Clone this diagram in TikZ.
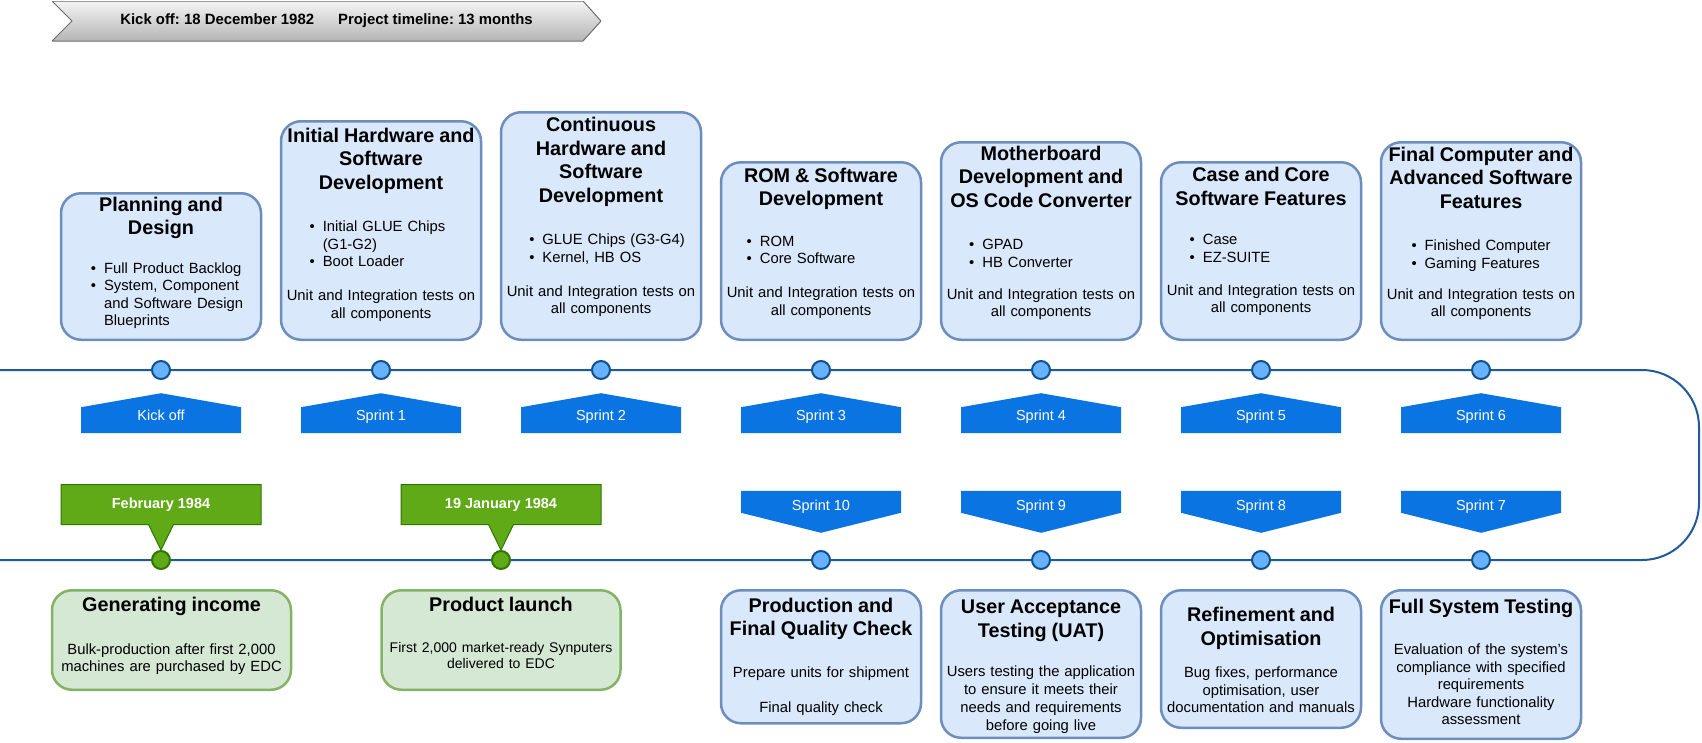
\documentclass[tikz,border=0pt]{standalone}
\usepackage{fontspec}
\setmainfont{Liberation Sans}
\usetikzlibrary{positioning,shapes.callouts}
\definecolor{tlblue}{HTML}{1F5A99}
\definecolor{dotblue}{HTML}{66B2FF}
\definecolor{dotedge}{HTML}{10508F}
\definecolor{sprintblue}{HTML}{0B74E3}
\definecolor{stagefill}{HTML}{DAE8FC}
\definecolor{stageline}{HTML}{6C8EBF}
\definecolor{gofill}{HTML}{D5E8D4}
\definecolor{goline}{HTML}{82B366}
\definecolor{dategreen}{HTML}{60A917}
\definecolor{dateedge}{HTML}{2D7600}
\definecolor{bannerhi}{HTML}{F4F4F4}
\definecolor{bannerlo}{HTML}{B5B5B5}
\definecolor{banneredge}{HTML}{6E6E6E}
\setlength{\parindent}{0pt}
\newcommand{\hdfont}{\fontsize{19.8}{23.5}\selectfont\bfseries}
\newcommand{\txfont}{\fontsize{14.8}{17.5}\selectfont}
\newcommand{\lblfont}{\fontsize{14.5}{17}\selectfont}
\newcommand{\boxhead}[1]{{\hdfont #1\par}}
\newcommand{\boxlist}[2][0pt]{\hspace*{#1}\begin{tabular}[t]{@{}l@{\hspace{8pt}}l@{}}#2\end{tabular}\par}
\newcommand{\boxtail}[1]{\par\nointerlineskip\vskip#1\relax\hbox{}}

\begin{document}
\begin{tikzpicture}[x=1pt,y=-1pt,
    dot/.style={circle,draw=dotedge,fill=dotblue,line width=2pt,minimum size=18pt,inner sep=0pt},
    gdot/.style={dot,draw=dateedge,fill=dategreen},
    tline/.style={draw=tlblue,line width=2pt,rounded corners=57pt},
    stage/.style={draw=stageline,fill=stagefill,line width=2.5pt,rounded corners=20pt,text width=196pt,inner xsep=2pt,inner ysep=1pt,align=center,font=\txfont},
    goal/.style={stage,draw=goline,fill=gofill,text width=235pt},
    sprintup/.style={minimum width=160pt,minimum height=40pt,inner sep=0pt,fill=white,text=white,font=\lblfont,text height=14pt,text depth=0pt,
      path picture={\fill[sprintblue] (path picture bounding box.south west) -- (path picture bounding box.south east) -- ([yshift=-14pt]path picture bounding box.north east) -- (path picture bounding box.north) -- ([yshift=-14pt]path picture bounding box.north west) -- cycle;}},
    sprintdown/.style={minimum width=160pt,minimum height=42pt,inner sep=0pt,fill=white,text=white,font=\lblfont,text height=4pt,text depth=7.5pt,
      path picture={\fill[sprintblue] (path picture bounding box.north west) -- (path picture bounding box.north east) -- ([yshift=20pt]path picture bounding box.south east) -- (path picture bounding box.south) -- ([yshift=20pt]path picture bounding box.south west) -- cycle;}},
    datecall/.style={rectangle callout,draw=dateedge,fill=dategreen,line width=1pt,text=white,font=\lblfont\bfseries,minimum width=200pt,minimum height=40pt,callout pointer width=25pt},
    banner/.style={minimum width=549pt,minimum height=40pt,inner sep=0pt,fill=white,font=\fontsize{14.9}{17}\selectfont\bfseries\frenchspacing,
      path picture={\shade[top color=bannerhi,bottom color=bannerlo,draw=banneredge,line width=1pt] (path picture bounding box.north west) -- ([xshift=-18pt]path picture bounding box.north east) -- (path picture bounding box.east) -- ([xshift=-18pt]path picture bounding box.south east) -- (path picture bounding box.south west) -- ([xshift=20pt]path picture bounding box.west) -- cycle;}}]
  \useasboundingbox (0,0) rectangle (1702,742);

  % timeline loop
  \coordinate (lineStart) at (0,370);
  \coordinate (turnTop) at (1699,370);
  \coordinate (turnBot) at (1699,560);
  \coordinate (lineEnd) at (0,560);
  \draw[tline] (lineStart) -- (turnTop) -- (turnBot) -- (lineEnd);

  % milestones on the line
  \foreach \x [count=\i] in {161,381,601,821,1041,1261,1481}
    \node[dot] (t\i) at (\x,370) {};
  \foreach \n/\x in {7/1481,8/1261,9/1041,10/821}
    \node[dot] (b\n) at (\x,560) {};
  \node[gdot] (gIncome) at (161,560) {};
  \node[gdot] (gLaunch) at (501,560) {};

  % sprint markers
  \foreach \lab [count=\i] in {Kick off,Sprint 1,Sprint 2,Sprint 3,Sprint 4,Sprint 5,Sprint 6}
    \node[sprintup,below=13pt of t\i] (up\i) {\lab};
  \foreach \n in {7,...,10}
    \node[sprintdown,above=17pt of b\n] (down\n) {Sprint \n};

  % stages above the line
  \node[stage,minimum height=146.5pt,above=19pt of t1] (plan) {\boxhead{Planning and\\Design}\vspace{21pt}
    \boxlist[12pt]{\textbullet & Full Product Backlog\\ \textbullet & System, Component\\ & and Software Design\\ & Blueprints}\boxtail{5pt}};
  \node[stage,minimum height=218.5pt,above=19pt of t2] (inithw) {\boxhead{Initial Hardware and\\Software\\Development}\vspace{25pt}
    \boxlist[-7pt]{\textbullet & Initial GLUE Chips\\ & (G1-G2)\\ \textbullet & Boot Loader}\vspace{17pt}
    Unit and Integration tests on\\all components\boxtail{12pt}};
  \node[stage,minimum height=227.5pt,above=19pt of t3] (conthw) {\boxhead{Continuous\\Hardware and\\Software\\Development}\vspace{25pt}
    \boxlist[12pt]{\textbullet & GLUE Chips (G3-G4)\\ \textbullet & Kernel, HB OS}\vspace{17pt}
    Unit and Integration tests on\\all components\boxtail{18pt}};
  \node[stage,minimum height=177.5pt,above=19pt of t4] (romsw) {\boxhead{ROM \& Software\\Development}\vspace{23pt}
    \boxlist[-40pt]{\textbullet & ROM\\ \textbullet & Core Software}\vspace{17pt}
    Unit and Integration tests on\\all components\boxtail{16pt}};
  \node[stage,minimum height=197.5pt,above=19pt of t5] (mboard) {\boxhead{Motherboard\\Development and\\OS Code Converter}\vspace{25pt}
    \boxlist[-40pt]{\textbullet & GPAD\\ \textbullet & HB Converter}\vspace{15pt}
    Unit and Integration tests on\\all components\boxtail{16pt}};
  \node[stage,minimum height=177.5pt,above=19pt of t6] (casecore) {\boxhead{Case and Core\\Software Features}\vspace{22pt}
    \boxlist[-62pt]{\textbullet & Case\\ \textbullet & EZ-SUITE}\vspace{16pt}
    Unit and Integration tests on\\all components\boxtail{19pt}};
  \node[stage,minimum height=197.5pt,above=19pt of t7] (finalpc) {\boxhead{Final Computer and\\Advanced Software\\Features}\vspace{25pt}
    \boxlist{\textbullet & Finished Computer\\ \textbullet & Gaming Features}\vspace{14pt}
    Unit and Integration tests on\\all components\boxtail{15pt}};

  % stages below the line
  \node[goal,minimum height=99.5pt,below=19pt of gIncome,xshift=10.5pt] (income) {\boxhead{Generating income}\vspace{25pt}
    Bulk-production after first 2,000\\machines are purchased by EDC\boxtail{7.5pt}};
  \node[goal,minimum height=99.5pt,below=19pt of gLaunch] (launch) {\boxhead{Product launch}\vspace{25pt}
    \fontsize{14}{16}\selectfont First 2,000 market-ready Synputers\\delivered to EDC\boxtail{15pt}};
  \node[stage,minimum height=133pt,below=19pt of b10] (prodqc) {\boxhead{Production and\\Final Quality Check}\vspace{24pt}
    Prepare units for shipment\par\vspace{17.5pt}Final quality check\boxtail{0pt}};
  \node[stage,minimum height=147.5pt,below=19pt of b9] (uat) {\boxhead{User Acceptance\\Testing (UAT)}\vspace{21.5pt}
    \fontsize{14.8}{18}\selectfont Users testing the application\\to ensure it meets their\\needs and requirements\\before going live\boxtail{-5.5pt}};
  \node[stage,minimum height=137.5pt,below=19pt of b8] (refine) {\boxhead{Refinement and\\Optimisation}\vspace{15pt}
    Bug fixes, performance\\optimisation, user\\documentation and manuals\boxtail{-2pt}};
  \node[stage,minimum height=148.5pt,below=19pt of b7] (fullsys) {\boxhead{Full System Testing}\vspace{24pt}
    Evaluation of the system's\\compliance with specified\\requirements\\Hardware functionality\\assessment\boxtail{5.5pt}};

  % dates
  \node[datecall,above=25pt of gIncome,callout absolute pointer={(gIncome.north)}] (febDate) {February 1984};
  \node[datecall,above=25pt of gLaunch,callout absolute pointer={(gLaunch.north)}] (janDate) {19 January 1984};

  % header
  \node[banner] (kickoff) at (326.5,21) {Kick off: 18 December 1982\hspace{24pt}Project timeline: 13 months};
\end{tikzpicture}
\end{document}
